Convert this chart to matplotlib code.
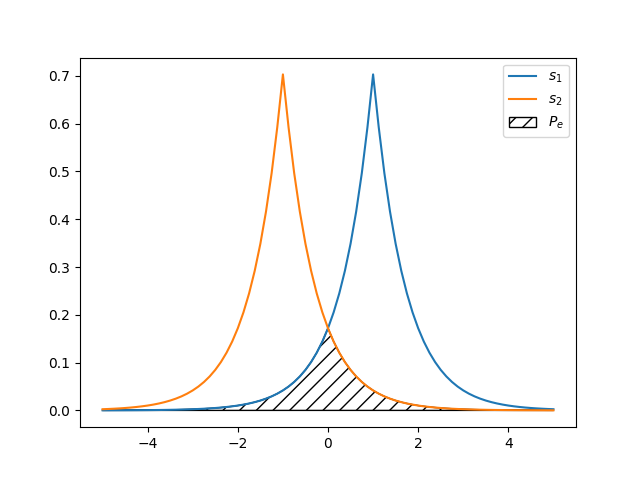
import numpy as np
import matplotlib
matplotlib.use("Agg")
import matplotlib.pyplot as plt

# x grid, -5 .. 5 in steps of 0.125
x = np.linspace(-5, 5, 81)

# s1, peak at x = 1
s1 = [0.00015, 0.00017, 0.00021, 0.00025, 0.00030, 0.00035, 0.00042, 0.00050,
      0.00060, 0.00072, 0.00086, 0.00102, 0.00122, 0.00145, 0.00173, 0.00207,
      0.00247, 0.00295, 0.00352, 0.00420, 0.00501, 0.00598, 0.00714, 0.00852,
      0.01016, 0.01213, 0.01447, 0.01727, 0.02061, 0.02460, 0.02935, 0.03503,
      0.04180, 0.04988, 0.05952, 0.07103, 0.08477, 0.10116, 0.12072, 0.14406,
      0.17191, 0.20515, 0.24482, 0.29216, 0.34865, 0.41606, 0.49650, 0.59250,
      0.70300,
      0.59250, 0.49650, 0.41606, 0.34865, 0.29216, 0.24482, 0.20515, 0.17191,
      0.14406, 0.12072, 0.10116, 0.08477, 0.07103, 0.05952, 0.04988, 0.04180,
      0.03503, 0.02935, 0.02460, 0.02061, 0.01727, 0.01447, 0.01213, 0.01016,
      0.00852, 0.00714, 0.00598, 0.00501, 0.00420, 0.00352, 0.00295, 0.00247]

# s2, peak at x = -1
s2 = [0.00247, 0.00295, 0.00352, 0.00420, 0.00501, 0.00598, 0.00714, 0.00852,
      0.01016, 0.01213, 0.01447, 0.01727, 0.02061, 0.02460, 0.02935, 0.03503,
      0.04180, 0.04988, 0.05952, 0.07103, 0.08477, 0.10116, 0.12072, 0.14406,
      0.17191, 0.20515, 0.24482, 0.29216, 0.34865, 0.41606, 0.49650, 0.59250,
      0.70300,
      0.59250, 0.49650, 0.41606, 0.34865, 0.29216, 0.24482, 0.20515, 0.17191,
      0.14406, 0.12072, 0.10116, 0.08477, 0.07103, 0.05952, 0.04988, 0.04180,
      0.03503, 0.02935, 0.02460, 0.02061, 0.01727, 0.01447, 0.01213, 0.01016,
      0.00852, 0.00714, 0.00598, 0.00501, 0.00420, 0.00352, 0.00295, 0.00247,
      0.00207, 0.00173, 0.00145, 0.00122, 0.00102, 0.00086, 0.00072, 0.00060,
      0.00050, 0.00042, 0.00035, 0.00030, 0.00025, 0.00021, 0.00017, 0.00015]

s1 = np.array(s1)
s2 = np.array(s2)

fig, ax = plt.subplots(figsize=(6.4, 4.8), dpi=100)
ax.plot(x, s1, label="$s_1$")
ax.plot(x, s2, label="$s_2$")
ax.fill_between(x, np.minimum(s1, s2), facecolor="none", edgecolor="k",
                hatch="//", label="$P_e$")
ax.legend()
fig.savefig("out.png")
